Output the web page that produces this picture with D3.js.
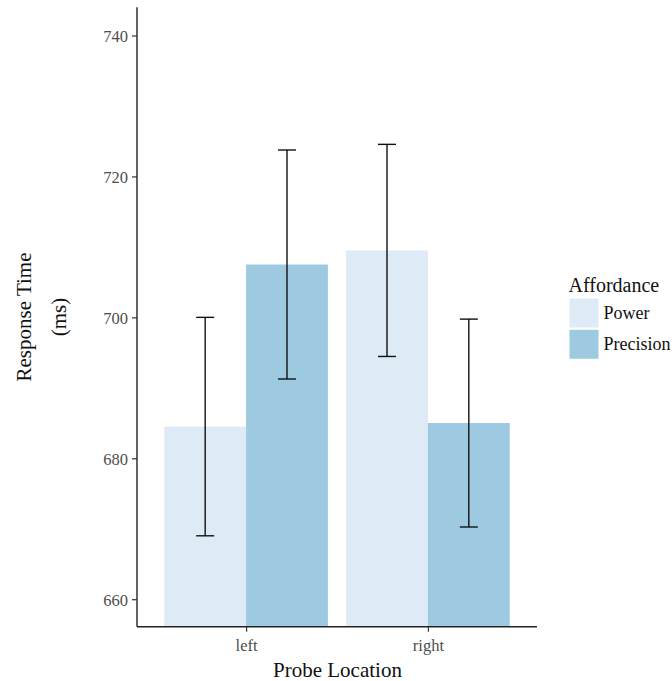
<!DOCTYPE html>
<html>
<head>
<meta charset="utf-8">
<script src="https://cdn.jsdelivr.net/npm/d3@7"></script>
<style>
  html, body { margin: 0; padding: 0; background: #fff; }
  svg { display: block; font-family: "Liberation Serif", "Times New Roman", serif; }
</style>
</head>
<body>
<svg id="chart" width="672" height="681"></svg>
<script>
// Mean response times (ms) with standard errors, by probe location and affordance
const locations = ["left", "right"];
const affordances = ["Power", "Precision"];
const powerMeans = [684.5, 709.5];
const precisionMeans = [707.5, 685.0];
const powerErr = [15.5, 15.05];
const precisionErr = [16.25, 14.75];
const yTicks = [660, 680, 700, 720, 740];
const fillColors = ["#deebf7", "#9ecae1"];

const rows = [];
locations.forEach((loc, i) => {
  rows.push({ loc, aff: affordances[0], mean: powerMeans[i], se: powerErr[i] });
  rows.push({ loc, aff: affordances[1], mean: precisionMeans[i], se: precisionErr[i] });
});

const svg = d3.select("#chart");
const plot = { left: 137, right: 537, top: 7.3, bottom: 626.7 };

const x = d3.scalePoint().domain(locations).range([plot.left, plot.right]).padding(0.6);
const dodge = 0.9 * x.step();
const xSub = d3.scaleBand().domain(affordances).range([-dodge / 2, dodge / 2]).padding(0);
const y = d3.scaleLinear().domain([656.1, 744.0]).range([plot.bottom, plot.top]);
const color = d3.scaleOrdinal().domain(affordances).range(fillColors);

// Bars
svg.append("g").selectAll("rect").data(rows).join("rect")
  .attr("x", d => x(d.loc) + xSub(d.aff))
  .attr("width", xSub.bandwidth())
  .attr("y", d => y(d.mean))
  .attr("height", d => y.range()[0] - y(d.mean))
  .attr("fill", d => color(d.aff));

// Error bars
const capW = 0.22 * xSub.bandwidth();
const eb = svg.append("g").attr("stroke", "#111").attr("stroke-width", 1.4).attr("fill", "none");
rows.forEach(d => {
  const cx = x(d.loc) + xSub(d.aff) + xSub.bandwidth() / 2;
  const y1 = y(d.mean + d.se), y0 = y(d.mean - d.se);
  eb.append("line").attr("x1", cx).attr("x2", cx).attr("y1", y1).attr("y2", y0);
  eb.append("line").attr("x1", cx - capW / 2).attr("x2", cx + capW / 2).attr("y1", y1).attr("y2", y1);
  eb.append("line").attr("x1", cx - capW / 2).attr("x2", cx + capW / 2).attr("y1", y0).attr("y2", y0);
});

// Y axis
const yAxis = svg.append("g")
  .attr("transform", `translate(${plot.left},0)`)
  .call(d3.axisLeft(y).tickValues(yTicks).tickSize(5).tickPadding(4));
yAxis.select(".domain").attr("d", `M0,${plot.top}V${plot.bottom}`);

// X axis
const xAxis = svg.append("g")
  .attr("transform", `translate(0,${plot.bottom})`)
  .call(d3.axisBottom(x).tickSize(5).tickPadding(8));
xAxis.select(".domain").attr("d", `M${plot.left},0H${plot.right}`);

[yAxis, xAxis].forEach(g => {
  g.select(".domain").attr("stroke", "#222").attr("stroke-width", 1.4);
  g.selectAll(".tick line").attr("stroke", "#333").attr("stroke-width", 1.2);
  g.selectAll(".tick text").attr("fill", "#4d4d4d")
    .style("font-family", "Liberation Serif, Times New Roman, serif")
    .style("font-size", "16.5px");
});
yAxis.selectAll(".tick text").attr("dy", "0.36em");

// Axis titles
svg.append("text")
  .attr("x", (plot.left + plot.right) / 2 + 0.5).attr("y", 676.5)
  .attr("text-anchor", "middle").attr("fill", "#111")
  .style("font-size", "21px").text("Probe Location");

const yTitle = svg.append("g").attr("transform", `translate(0,${(plot.top + plot.bottom) / 2}) rotate(-90)`)
  .attr("fill", "#111").style("font-size", "21px").attr("text-anchor", "middle");
yTitle.append("text").attr("x", 0).attr("y", 31).text("Response Time");
yTitle.append("text").attr("x", 0).attr("y", 66).text("(ms)");

// Legend
const legend = svg.append("g").attr("transform", "translate(569,0)");
legend.append("text").attr("x", -0.5).attr("y", 291.5).attr("fill", "#111")
  .style("font-size", "20px").text("Affordance");
affordances.forEach((a, i) => {
  const ky = 298.5 + i * 31.3;
  legend.append("rect").attr("x", 0.5).attr("y", ky).attr("width", 29).attr("height", 29)
    .attr("fill", color(a));
  legend.append("text").attr("x", 34.5).attr("y", ky + 20.5).attr("fill", "#111")
    .style("font-size", "18px").text(a);
});
</script>
</body>
</html>
